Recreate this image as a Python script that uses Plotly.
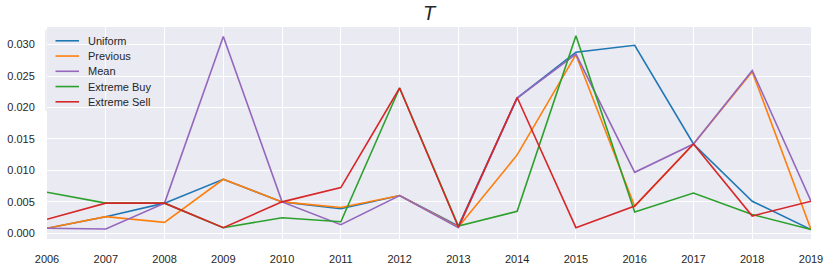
import plotly.graph_objects as go

years = list(range(2006, 2020))
uniform = [0.0008, 0.00265, 0.0048, 0.0086, 0.0050, 0.0039, 0.0060, 0.00116, 0.0215, 0.0288, 0.0299, 0.0142, 0.0051, 0.0006]
previous = [0.0008, 0.00265, 0.00175, 0.0086, 0.0050, 0.0041, 0.0060, 0.0010, 0.01247, 0.0284, 0.0043, 0.0142, 0.0257, 0.0006]
mean = [0.0008, 0.0007, 0.0048, 0.0313, 0.0050, 0.00137, 0.0060, 0.0009, 0.0215, 0.0285, 0.0097, 0.0142, 0.0259, 0.0051]
extreme_buy = [0.00653, 0.0048, 0.0048, 0.0009, 0.00248, 0.00185, 0.0231, 0.00116, 0.0035, 0.0314, 0.0034, 0.0064, 0.0030, 0.0006]
extreme_sell = [0.00223, 0.0048, 0.0048, 0.0009, 0.0050, 0.00727, 0.0231, 0.0010, 0.0216, 0.0009, 0.00435, 0.0142, 0.00276, 0.0051]

names = ["Uniform", "Previous", "Mean", "Extreme Buy", "Extreme Sell"]
values = [uniform, previous, mean, extreme_buy, extreme_sell]
colors = ["#1f77b4", "#ff7f0e", "#9467bd", "#2ca02c", "#d62728"]

fig = go.Figure()
for name, vals, color in zip(names, values, colors):
    fig.add_trace(go.Scatter(x=years, y=vals, mode="lines", name=name,
                             line=dict(color=color, width=1.6),
                             showlegend=False, hoverinfo="skip"))

W, H = 831, 270
ML, MR, MT, MB = 47, 20, 27, 31
PW, PH = W - ML - MR, H - MT - MB

def px_x(p):
    return (p - ML) / PW

def px_y(p):
    return (H - MB - p) / PH

# compact legend (matplotlib-style) drawn in paper coordinates
shapes = [dict(type="rect", xref="paper", yref="paper", layer="between",
               x0=px_x(45), x1=px_x(153), y0=px_y(111), y1=px_y(30),
               fillcolor="rgba(234,234,242,0.8)", line=dict(width=0))]
annotations = []
for i, (name, color) in enumerate(zip(names, colors)):
    yc = 40.8 + i * 15.25
    shapes.append(dict(type="line", xref="paper", yref="paper", layer="above",
                       x0=px_x(55.5), x1=px_x(79), y0=px_y(yc), y1=px_y(yc),
                       line=dict(color=color, width=1.6)))
    annotations.append(dict(xref="paper", yref="paper", x=px_x(86), y=px_y(yc),
                            xanchor="left", yanchor="middle", showarrow=False,
                            text=name, font=dict(size=11, color="#262626")))

font_family = "Liberation Sans, Arial, sans-serif"
fig.update_layout(
    width=W, height=H,
    margin=dict(l=ML, r=MR, t=MT, b=MB, autoexpand=False),
    paper_bgcolor="white",
    plot_bgcolor="#EAEAF2",
    font=dict(family=font_family, size=11, color="#262626"),
    title=dict(text="<i>T</i>", x=(ML + PW / 2) / W, xanchor="center",
               yref="container", y=1 - 6 / H, yanchor="top",
               font=dict(size=20, color="#262626")),
    showlegend=False,
    hovermode=False,
    shapes=shapes,
    annotations=annotations,
    xaxis=dict(range=[2006, 2019], tickmode="array", tickvals=years,
               ticktext=[str(y) for y in years], automargin=False,
               showgrid=True, gridcolor="white", gridwidth=1.2,
               zeroline=False, showline=False,
               ticks="outside", ticklen=10, tickcolor="rgba(0,0,0,0)"),
    yaxis=dict(range=[-0.0009, 0.0328], tickmode="array",
               tickvals=[0, 0.005, 0.01, 0.015, 0.02, 0.025, 0.03],
               ticktext=["0.000", "0.005", "0.010", "0.015", "0.020", "0.025", "0.030"],
               automargin=False,
               showgrid=True, gridcolor="white", gridwidth=1.2,
               zeroline=False, showline=False,
               ticks="outside", ticklen=9, tickcolor="rgba(0,0,0,0)"),
)

fig.write_html("out.html",
               config={"displayModeBar": False},
               post_script="document.body.style.margin='0';document.body.style.overflow='hidden';")
